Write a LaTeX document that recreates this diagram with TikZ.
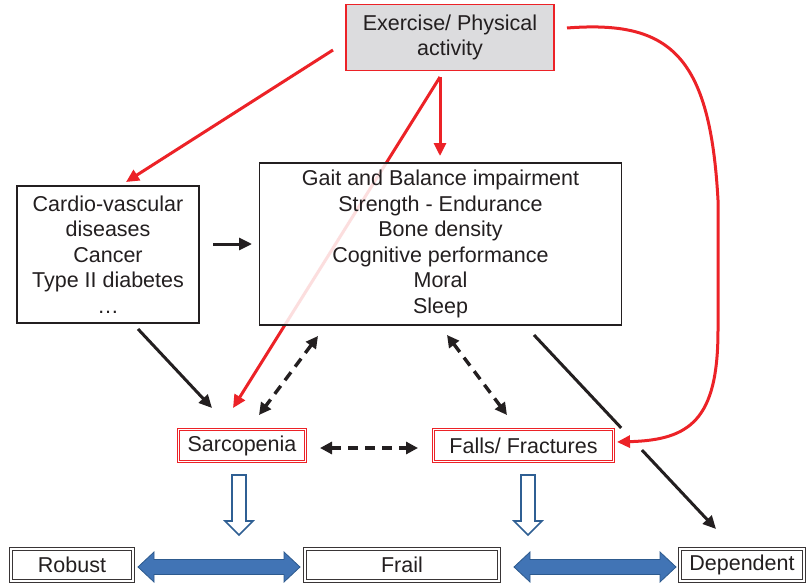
\documentclass[tikz,border=0pt]{standalone}
\usepackage{fontspec}
\setmainfont{Liberation Sans}
\usetikzlibrary{arrows.meta,calc}

\definecolor{actred}{HTML}{EC2227}
\definecolor{boxgray}{HTML}{DCDCDE}
\definecolor{inkgray}{HTML}{231F20}
\definecolor{stateblue}{HTML}{4174B5}
\definecolor{stateedge}{HTML}{2D5A8E}
\definecolor{hollowedge}{HTML}{2F5F93}

% horizontal two-headed block arrow between two points on the same level
\newcommand{\statearrow}[2]{%
  \path[stateband] let \p1=(#1), \p2=(#2) in
    (\x1,\y1) -- (\x1+16pt,\y1+15pt) -- (\x1+16pt,\y1+7.5pt)
    -- (\x2-16pt,\y1+7.5pt) -- (\x2-16pt,\y1+15pt) -- (\x2,\y1)
    -- (\x2-16pt,\y1-15pt) -- (\x2-16pt,\y1-7.5pt)
    -- (\x1+16pt,\y1-7.5pt) -- (\x1+16pt,\y1-15pt) -- cycle;}

% downward hollow arrow starting at a top-centre point
\newcommand{\hollowdown}[1]{%
  \path[hollowband] let \p1=(#1) in
    (\x1-7pt,\y1) -- (\x1-7pt,\y1-46pt) -- (\x1-14pt,\y1-46pt)
    -- (\x1,\y1-60pt) -- (\x1+14pt,\y1-46pt) -- (\x1+7pt,\y1-46pt)
    -- (\x1+7pt,\y1) -- cycle;}

\begin{document}
\begin{tikzpicture}[x=1pt,y=-1pt,
  every node/.style={font=\fontsize{21.5}{25.6}\selectfont, text=inkgray,
                     inner sep=0pt, align=center},
  plainbox/.style={draw=inkgray, line width=1.2pt, fill=white},
  activitybox/.style={draw=actred, line width=1.2pt, fill=boxgray},
  redbox/.style={draw=actred, double=white, double distance=1.6pt, line width=0.8pt, fill=white},
  statebox/.style={draw=inkgray!90, double=white, double distance=1.8pt, line width=0.9pt, fill=white},
  redarrow/.style={draw=actred, line width=3pt, -{Triangle[length=13pt,width=12pt]}},
  blackline/.style={draw=inkgray, line width=3pt},
  blackarrow/.style={blackline, -{Triangle[length=13pt,width=12pt]}},
  dashlink/.style={draw=inkgray, line width=3.4pt, dash pattern=on 10pt off 7pt,
                   {Triangle[length=12pt,width=12pt]}-{Triangle[length=12pt,width=12pt]}},
  stateband/.style={fill=stateblue, draw=stateedge, line width=0.8pt},
  hollowband/.style={fill=white, draw=hollowedge, line width=1.6pt},
]
\useasboundingbox (0,0) rectangle (809,586);

% connector end points
\coordinate (exL)    at (333,50);
\coordinate (exB)    at (440,77);
\coordinate (exR)    at (567,28);
\coordinate (cvTop)  at (126,182);
\coordinate (mainTop) at (440,156);
\coordinate (sarTop) at (233,408);
\coordinate (cvR)    at (213,244);
\coordinate (mainL)  at (252,244);
\coordinate (cvB)    at (138,329);
\coordinate (sarTL)  at (212,408);
\coordinate (mainBL) at (318,336);
\coordinate (sarTR)  at (259,415);
\coordinate (mainBR) at (447,335);
\coordinate (falTL)  at (507,415);
\coordinate (sarR)   at (320,448);
\coordinate (falL)   at (418,448);
\coordinate (mainBD) at (534,335);
\coordinate (depTop) at (716,529);
\coordinate (falR)   at (617,442);

% the activity link to sarcopenia runs underneath the outcome box
\draw[redarrow] (exB) -- (sarTop);

% boxes
\node[activitybox, minimum width=208pt, minimum height=66pt] (ex) at (450,37.5)
  {Exercise/ Physical\\activity};
\node[plainbox, fill opacity=0.85, text opacity=1, minimum width=362pt, minimum height=162pt]
  (main) at (440.5,244)
  {Gait and Balance impairment\\Strength - Endurance\\Bone density\\Cognitive performance\\Moral\\Sleep};
\node[plainbox, minimum width=182pt, minimum height=137pt] (cv) at (108,254.5)
  {Cardio-vascular\\diseases\\Cancer\\Type II diabetes\\…};
\node[redbox, minimum width=126.8pt, minimum height=31.8pt] (sar) at (242,445.5) {Sarcopenia};
\node[redbox, minimum width=179.8pt, minimum height=31.8pt] (fal) at (523.5,445.5) {Falls/ Fractures};
\node[statebox, minimum width=122.4pt, minimum height=32.4pt] (rob) at (72,565) {Robust};
\node[statebox, minimum width=194pt, minimum height=32.4pt] (frail) at (402,565) {Frail};
\node[statebox, minimum width=124.4pt, minimum height=32.4pt] (dep) at (742,565) {Dependent};

% red links from physical activity
\draw[redarrow] (exL) -- (cvTop);
\draw[redarrow] (exB) -- (mainTop);
\draw[redarrow] (exR) .. controls (670,20) and (710,55) .. (718,200)
  -- (718,330) .. controls (718,420) and (690,440) .. (falR);

% black links
\draw[blackarrow] (cvR) -- (mainL);
\draw[blackarrow] (cvB) -- (sarTL);
\draw[blackline] (mainBD) -- ($(mainBD)!0.479!(depTop)$);
\draw[blackarrow] ($(mainBD)!0.593!(depTop)$) -- (depTop);

% dashed two-way links
\draw[dashlink] (mainBL) -- (sarTR);
\draw[dashlink] (mainBR) -- (falTL);
\draw[dashlink] (sarR) -- (falL);

% hollow arrows towards frailty
\coordinate (hsar) at (239,475);
\coordinate (hfal) at (528,475);
\hollowdown{hsar}
\hollowdown{hfal}

% two-way transitions between states
\coordinate (rf1) at (138,567);
\coordinate (rf2) at (300,567);
\coordinate (fd1) at (514,567);
\coordinate (fd2) at (676,567);
\statearrow{rf1}{rf2}
\statearrow{fd1}{fd2}
\end{tikzpicture}
\end{document}
